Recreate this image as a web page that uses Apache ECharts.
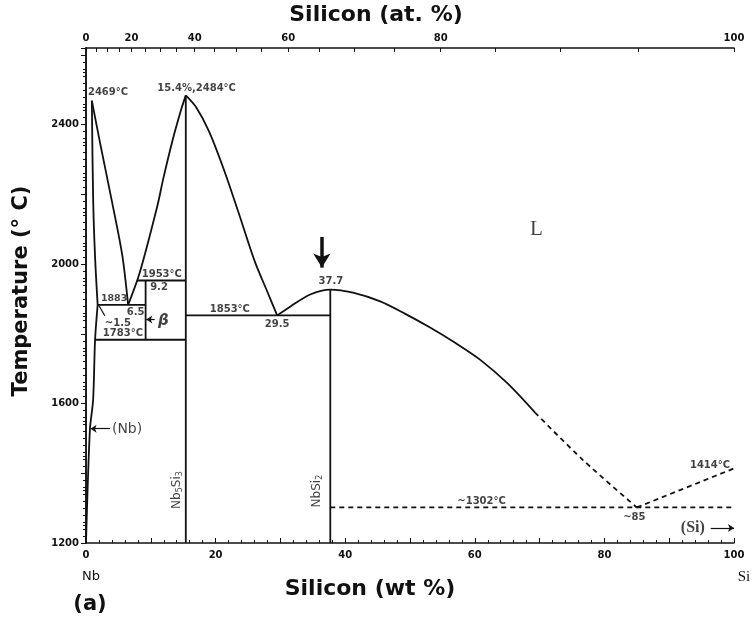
<!DOCTYPE html>
<html>
<head>
<meta charset="utf-8">
<script src="https://cdn.jsdelivr.net/npm/echarts@6/dist/echarts.min.js"></script>
<style>
  html, body { margin: 0; padding: 0; background: #fff; }
  #chart { width: 752px; height: 623px; }
</style>
</head>
<body>
<div id="chart"></div>
<script>
// Nb–Si phase boundaries, points are [wt% Si, °C]
const nbLiquidus = [[0.9, 2469], [2.2, 2345], [4.0, 2180], [5.6, 2025], [6.5, 1883]];
const nbSolidus = [[0.9, 2469], [1.1, 2190], [1.4, 2020], [1.8, 1883]];
const nbSolvus = [[1.8, 1883], [1.4, 1783], [1.1, 1611], [0.6, 1525], [0, 1200]];
const nb5si3Left = [[6.5, 1883], [8.3, 1976], [11.0, 2166], [11.9, 2243], [13.4, 2358], [14.7, 2444], [15.4, 2484]];
const nb5si3Right = [[15.4, 2484], [17.0, 2450], [19.0, 2380], [21.3, 2270], [23.5, 2150], [26.0, 2010], [28.0, 1920], [29.5, 1853]];
const nbsi2Liquidus = [[29.5, 1853], [31.5, 1878], [34.6, 1913], [37.7, 1927], [41.2, 1918], [45.4, 1893], [49.2, 1858], [53.1, 1818], [56.9, 1775], [60.8, 1726], [65.1, 1657], [69.3, 1574]];
const nbsi2LiquidusDashed = [[69.3, 1574], [76.7, 1438], [85, 1302]];
const siLiquidus = [[85, 1302], [100, 1414]];

// invariant lines and compounds
const eutectic1883 = [[1.8, 1883], [9.2, 1883]];
const peritectic1953 = [[7.9, 1953], [15.4, 1953]];
const eutectoid1783 = [[1.4, 1783], [15.4, 1783]];
const nb3si = [[9.2, 1783], [9.2, 1953]];
const nb5si3 = [[15.4, 1200], [15.4, 2484]];
const eutectic1853 = [[15.4, 1853], [37.7, 1853]];
const nbsi2 = [[37.7, 1200], [37.7, 1927]];
const eutectic1302 = [[37.7, 1302], [100, 1302]];

// axis ticks
const atTicks = [0, 5, 10, 15, 20, 25, 30, 35, 40, 45, 50, 55, 60, 65, 70, 75, 80, 85, 90, 95, 100];
const atLabels = [0, 20, 40, 60, 80, 100];
const wtLabels = [0, 20, 40, 60, 80, 100];
const tempLabels = [1200, 1600, 2000, 2400];

const M_NB = 92.906, M_SI = 28.086;
const wtFromAt = (at) => (at * M_SI) / (at * M_SI + (100 - at) * M_NB) * 100;
const atFromWt = (wt) => (wt / M_SI) / (wt / M_SI + (100 - wt) / M_NB) * 100;

const INK = '#111';
const FONT = 'DejaVu Sans';

const chart = echarts.init(document.getElementById('chart'));

function boundary(data, extra) {
    return Object.assign({
        type: 'line',
        data,
        symbol: 'none',
        silent: true,
        z: 3,
        lineStyle: { color: INK, width: 1.8 },
    }, extra || {});
}
const dashed = { lineStyle: { color: INK, width: 1.8, type: [5, 4] } };
const curve = { smooth: 0.3 };

// annotations placed in data space
const notes = [
    { at: [0.3, 2493], text: '2469°C' },
    { at: [11.0, 2505], text: '15.4%,2484°C' },
    { at: [8.6, 1970], text: '1953°C' },
    { at: [9.9, 1933], text: '9.2' },
    { at: [2.3, 1901], text: '1883', size: 9.5 },
    { at: [6.3, 1861], text: '6.5' },
    { at: [2.9, 1830], text: '~1.5' },
    { at: [11.1, 1836], text: 'β', size: 15, style: 'italic' },
    { at: [2.6, 1800], text: '1783°C' },
    { at: [19.1, 1870], text: '1853°C' },
    { at: [27.6, 1826], text: '29.5' },
    { at: [37.8, 1949], text: '37.7', align: 'center' },
    { at: [68.5, 2099], text: 'L', size: 21, family: 'Liberation Serif', weight: 'normal' },
    { at: [4.0, 1525], text: '(Nb)', size: 14, weight: 'normal' },
    { at: [14.0, 1352], text: 'Nb{s|5}Si{s|3}', rotate: 90, align: 'center', size: 12, weight: 'normal' },
    { at: [35.6, 1349], text: 'NbSi{s|2}', rotate: 90, align: 'center', size: 12, weight: 'normal' },
    { at: [57.3, 1318], text: '~1302°C' },
    { at: [82.9, 1272], text: '~85' },
    { at: [93.2, 1424], text: '1414°C' },
    { at: [91.8, 1243], text: '(Si)', size: 16, weight: 'bold', family: 'Liberation Serif' },
];

const pointers = [
    { from: [3.7, 1528], to: [0.7, 1528], head: true },
    { from: [96.4, 1243], to: [100, 1243], head: true },
    { from: [10.6, 1841], to: [9.3, 1841], head: true },
    { from: [2.9, 1852], to: [1.9, 1884], head: false },
];

chart.setOption({
    animation: false,
    backgroundColor: '#fff',
    grid: { left: 86, right: 18, top: 48, bottom: 80 },
    xAxis: [
        {
            type: 'value',
            position: 'bottom',
            min: 0,
            max: 100,
            interval: 10,
            axisLine: { lineStyle: { color: INK, width: 1.5 } },
            axisTick: { inside: true, length: 5, lineStyle: { color: INK } },
            minorTick: { show: true, splitNumber: 5, length: 3, lineStyle: { color: INK } },
            axisLabel: {
                color: INK, fontFamily: FONT, fontSize: 10, fontWeight: 'bold', margin: 7,
                formatter: (v) => (wtLabels.includes(v) ? String(v) : ''),
            },
            splitLine: { show: false },
        },
        {
            type: 'value',
            position: 'top',
            min: 0,
            max: 100,
            axisLine: { lineStyle: { color: INK, width: 1.5 } },
            axisTick: { inside: true, length: 4, customValues: atTicks.map(wtFromAt), lineStyle: { color: INK } },
            axisLabel: {
                color: INK, fontFamily: FONT, fontSize: 10, fontWeight: 'bold', margin: 5,
                customValues: atLabels.map(wtFromAt),
                formatter: (v) => String(Math.round(atFromWt(v))),
            },
            splitLine: { show: false },
        },
    ],
    yAxis: [
        {
            type: 'value',
            position: 'left',
            min: 1200,
            max: 2620,
            interval: 400,
            axisLine: { show: true, lineStyle: { color: INK, width: 1.5 } },
            axisTick: { show: true, inside: false, length: 5, lineStyle: { color: INK } },
            minorTick: { show: true, splitNumber: 20, length: 3, lineStyle: { color: INK } },
            axisLabel: {
                color: INK, fontFamily: FONT, fontSize: 10, fontWeight: 'bold', margin: 7,
                formatter: (v) => (tempLabels.includes(v) ? String(v) : ''),
            },
            splitLine: { show: false },
        },
        {
            type: 'value',
            position: 'right',
            min: 1200,
            max: 2620,
            interval: 200,
            axisLine: { show: true, lineStyle: { color: INK, width: 1.5 } },
            axisTick: { show: true, inside: true, length: 5, lineStyle: { color: INK } },
            minorTick: { show: true, splitNumber: 4, length: 3, lineStyle: { color: INK } },
            axisLabel: { show: false },
            splitLine: { show: false },
        },
    ],
    series: [
        boundary(nbLiquidus, curve),
        boundary(nbSolidus, curve),
        boundary(nbSolvus, curve),
        boundary(nb5si3Left, curve),
        boundary(nb5si3Right, curve),
        boundary(nbsi2Liquidus, curve),
        boundary(nbsi2LiquidusDashed, Object.assign({}, curve, dashed)),
        boundary(siLiquidus, dashed),
        boundary(eutectic1883),
        boundary(peritectic1953),
        boundary(eutectoid1783),
        boundary(nb3si),
        boundary(nb5si3),
        boundary(eutectic1853),
        boundary(nbsi2),
        boundary(eutectic1302, dashed),
        {
            // the big arrow over NbSi2
            type: 'line',
            data: [],
            silent: true,
            markLine: {
                silent: true,
                symbol: ['none', 'arrow'],
                symbolSize: [13, 14],
                label: { show: false },
                lineStyle: { color: INK, width: 3.5, type: 'solid' },
                data: [[{ coord: [36.4, 2078] }, { coord: [36.4, 1990] }]],
            },
        },
        {
            type: 'line',
            data: [],
            silent: true,
            markLine: {
                silent: true,
                symbolSize: 6,
                label: { show: false },
                lineStyle: { color: INK, width: 1.2, type: 'solid' },
                data: pointers.map((p) => [
                    { coord: p.from, symbol: 'none' },
                    { coord: p.to, symbol: p.head ? 'arrow' : 'none' },
                ]),
            },
        },
        {
            type: 'scatter',
            symbolSize: 0,
            silent: true,
            z: 5,
            data: notes.map((n) => ({
                value: n.at,
                label: {
                    show: true,
                    position: 'inside',
                    formatter: n.text,
                    align: n.align || 'left',
                    verticalAlign: 'middle',
                    rotate: n.rotate || 0,
                    color: INK,
                    fontFamily: n.family || FONT,
                    fontSize: n.size || 10,
                    fontWeight: n.weight || 'bold',
                    fontStyle: n.style || 'normal',
                    rich: {
                        s: { fontSize: 8, fontFamily: FONT, color: INK, padding: [6, 0, 0, 0] },
                    },
                },
            })),
        },
    ],
    graphic: [
        {
            type: 'text', left: 'center', top: 4,
            style: { text: 'Silicon (at. %)', font: 'bold 22px "DejaVu Sans"', fill: INK },
        },
        {
            type: 'text', x: 370, y: 589,
            style: { text: 'Silicon (wt %)', font: 'bold 22px "DejaVu Sans"', fill: INK, align: 'center', verticalAlign: 'middle' },
        },
        {
            type: 'text', x: 22, y: 291, rotation: Math.PI / 2,
            style: { text: 'Temperature (° C)', font: 'bold 21px "DejaVu Sans"', fill: INK, align: 'center', verticalAlign: 'middle' },
        },
        {
            type: 'text', x: 91, y: 577,
            style: { text: 'Nb', font: '13px "DejaVu Sans"', fill: INK, align: 'center', verticalAlign: 'middle' },
        },
        {
            type: 'text', x: 90, y: 605,
            style: { text: '(a)', font: 'bold 21px "DejaVu Sans"', fill: INK, align: 'center', verticalAlign: 'middle' },
        },
        {
            type: 'text', x: 744, y: 577,
            style: { text: 'Si', font: '15px "Liberation Serif"', fill: INK, align: 'center', verticalAlign: 'middle' },
        },
    ],
});
</script>
</body>
</html>
